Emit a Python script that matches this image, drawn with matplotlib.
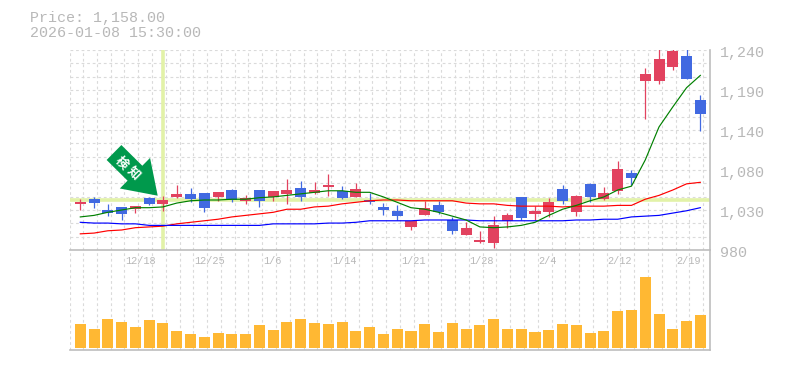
import numpy as np
import matplotlib
matplotlib.use('Agg')
import matplotlib.pyplot as plt
from matplotlib.patches import FancyArrow
from matplotlib.transforms import Affine2D

title_lines = ['Price: 1,158.00', '2026-01-08 15:30:00']

opens = [1040,1046,1032,1036,1033,1048,1040,1049,1053,1054,1049,1058,1044,1058,1049,1053,
         1061,1054,1062,1057,1049,1045,1036,1031,1010,1025,1038,1019,1000,990,989,1018,
         1049,1027,1029,1059,1029,1066,1046,1057,1080,1200,1200,1218,1232,1175]
highs = [1046,1049,1040,1036,1037,1049,1050,1064,1061,1054,1055,1059,1051,1058,1057,1072,
         1070,1068,1079,1063,1067,1054,1041,1038,1018,1044,1044,1023,1016,1005,1024,1028,
         1049,1037,1048,1064,1051,1067,1062,1096,1084,1217,1250,1250,1250,1182]
lows = [1032,1035,1024,1019,1028,1038,1031,1048,1042,1029,1044,1042,1040,1036,1044,1040,
        1044,1053,1050,1046,1049,1040,1025,1019,1006,1025,1027,1001,1000,989,983,1009,
        1019,1019,1023,1040,1024,1042,1045,1053,1064,1150,1196,1214,1202,1135]
closes = [1042,1041,1028,1027,1037,1040,1045,1053,1046,1035,1055,1045,1048,1044,1057,1058,
          1049,1058,1064,1048,1059,1042,1032,1024,1018,1035,1029,1005,1009,993,1012,1025,
          1022,1031,1042,1044,1050,1049,1054,1085,1074,1209,1228,1239,1202,1157]

ma_green = [1023,1025,1029,1032,1035,1035,1036,1041,1044,1045,1045,1046,1046,1048,1049,1051,
            1053,1055,1057,1057,1055,1055,1049,1042,1035,1033,1029,1024,1019,1010,1009,1010,
            1012,1016,1025,1033,1038,1044,1049,1058,1063,1097,1140,1166,1191,1207]
ma_red = [1001,1002,1005,1006,1009,1010,1011,1014,1016,1018,1020,1023,1025,1027,1029,1033,
          1033,1036,1037,1040,1042,1044,1045,1045,1044,1044,1044,1044,1041,1040,1040,1038,
          1037,1037,1037,1036,1037,1037,1037,1038,1038,1046,1051,1058,1066,1068]
ma_blue = [1016,1015,1015,1014,1014,1012,1012,1012,1012,1012,1012,1012,1012,1012,1014,1014,
           1014,1014,1015,1015,1016,1018,1018,1018,1018,1019,1019,1019,1019,1018,1018,1018,
           1018,1018,1018,1018,1019,1019,1020,1020,1023,1024,1025,1028,1031,1035]

volumes = [24,19,29,26,21,28,25,17,14,11,15,14,14,23,18,26,29,25,24,26,17,21,14,
           19,17,24,16,25,19,23,29,19,19,16,18,24,23,15,17,37,38,71,34,19,27,33]

price_ticks = [1240, 1188, 1136, 1084, 1032, 980]
price_labels = ['1,240', '1,190', '1,140', '1,080', '1,030', '980']
date_pos = [3, 8, 13, 18, 23, 28, 33, 38, 43]
date_labels = ['12/18', '12/25', '1/6', '1/14', '1/21', '1/28', '2/4', '2/12', '2/19']

signal_index = 6
signal_price = 1045
signal_text = '検知'

RED = '#E2425F'
BLUE = '#4169E1'
TXT = '#B8B8B8'
GRID = '#DADADA'
AXIS = '#BDBDBD'
HILITE = '#E2F2A8'
W, H = 785, 370
mono = 'Liberation Mono'

fig = plt.figure(figsize=(W/100, H/100), dpi=100)
ax = fig.add_axes([70/W, (H-250)/H, 640/W, 200/H])
axv = fig.add_axes([70/W, (H-350)/H, 640/W, 100/H])

n = len(opens)
x = np.arange(n)
xlim = (-0.747, 45.7)
grid_x = [xlim[0] + 0.01] + [i + 0.2 for i in range(n)]

for a in (ax, axv):
    a.set_xlim(*xlim)
    a.set_xticks([])
    a.set_yticks([])
    a.patch.set_alpha(0)
    for s in a.spines.values():
        s.set_visible(False)
    a.vlines(grid_x, 0, 1, transform=a.get_xaxis_transform(), color=GRID,
             lw=0.8, linestyles=(0, (2.5, 2.5)), zorder=1)
    a.spines['bottom'].set_visible(True)
    a.spines['right'].set_visible(True)
    a.spines['bottom'].set_color(AXIS)
    a.spines['right'].set_color(AXIS)
    a.spines['bottom'].set_linewidth(1.2)
    a.spines['right'].set_linewidth(1.2)

# price panel
ax.set_ylim(980, 1240)
ax.hlines(np.linspace(980, 1240, 16)[1:], xlim[0], xlim[1], color=GRID, lw=0.8,
          linestyles=(0, (2.5, 2.5)), zorder=1)
ax.axhline(signal_price, color=HILITE, lw=2.6, zorder=2)
ax.axvline(signal_index, ymin=0.01, color=HILITE, lw=2.6, zorder=2)

colors = [RED if c >= o else BLUE for o, c in zip(opens, closes)]
ax.vlines(x, lows, highs, color=colors, lw=0.9, zorder=3)
body = [abs(c - o) for o, c in zip(opens, closes)]
bottom = [min(o, c) for o, c in zip(opens, closes)]
ax.bar(x, body, bottom=bottom, width=0.8, color=colors, zorder=4)

ax.plot(x, ma_red, color='#FF0000', lw=0.85, zorder=5)
ax.plot(x, ma_blue, color='#0000FF', lw=0.85, zorder=5)
ax.plot(x, ma_green, color='#008000', lw=0.85, zorder=6)

for t, lab in zip(price_ticks, price_labels):
    ax.annotate(lab, (1, t), xycoords=('axes fraction', 'data'), xytext=(10, -3),
                textcoords='offset pixels', ha='left', va='center', color=TXT,
                family=mono, fontsize=10.8, annotation_clip=False)

# volume panel
axv.set_ylim(-2, 98)
axv.bar(x, volumes, width=0.8, color='#FFB833', zorder=3)
for p, lab in zip(date_pos, date_labels):
    axv.annotate(lab, (p + 0.26, 1), xycoords=('data', 'axes fraction'), xytext=(0, -11),
                 textcoords='offset pixels', ha='left', va='center', color=TXT,
                 family=mono, fontsize=7.4, annotation_clip=False)

# header text
fig.text(30/W, 1 - 18/H, title_lines[0], color=TXT, family=mono, fontsize=10.8, va='center')
fig.text(30/W, 1 - 33/H, title_lines[1], color=TXT, family=mono, fontsize=10.8, va='center')

# signal arrow, in image pixels from the top left
px = Affine2D().scale(1, -1).translate(0, H)
arrow = FancyArrow(114, 152.5, 43.7, 43.2, width=21, head_width=43, head_length=32,
                   length_includes_head=True, color='#00994C', lw=0, transform=px, zorder=8)
fig.add_artist(arrow)
fig.text(121.7/W, 1 - 162.7/H, signal_text[0], color='white', family='Noto Sans CJK JP',
         fontweight='bold', fontsize=9, rotation=-45, ha='center', va='center',
         rotation_mode='anchor', zorder=9)
fig.text(134/W, 1 - 173/H, signal_text[1], color='white', family='Noto Sans CJK JP',
         fontweight='bold', fontsize=9, rotation=-45, ha='center', va='center',
         rotation_mode='anchor', zorder=9)

fig.savefig('out.png', dpi=100)
